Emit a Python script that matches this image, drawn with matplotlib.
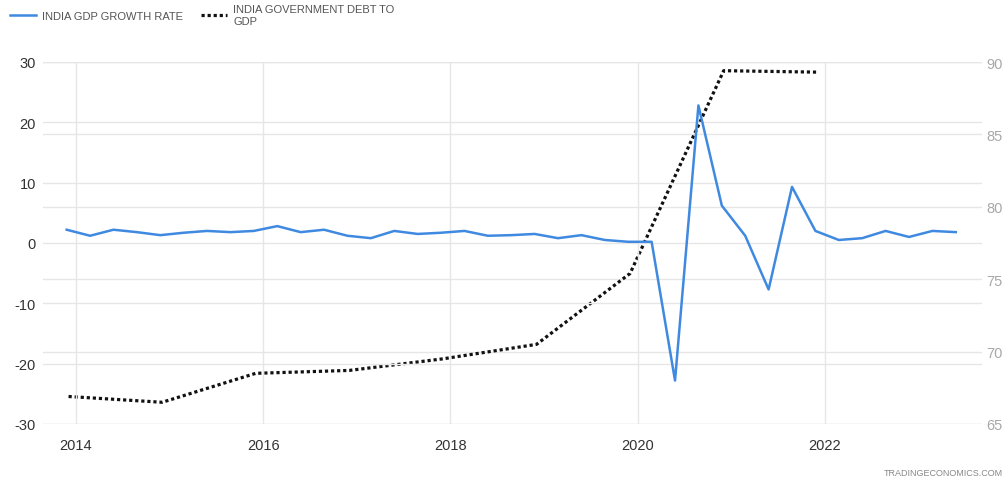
import numpy as np
import pandas as pd
import matplotlib
matplotlib.use('Agg')
import matplotlib.pyplot as plt
from matplotlib.lines import Line2D

# Du lieu doc tu hinh
gdp_quarters = pd.period_range('2013Q4', '2023Q2', freq='Q')
gdp_growth = [2.2, 1.2, 2.2, 1.8, 1.3, 1.7, 2.0, 1.8, 2.0, 2.8, 1.8, 2.2, 1.2,
              0.8, 2.0, 1.5, 1.7, 2.0, 1.2, 1.3, 1.5, 0.8, 1.3, 0.5, 0.2, 0.2, -22.8,
              22.8, 6.2, 1.2, -7.7, 9.3, 2.0, 0.5, 0.8, 2.0, 1.0, 2.0, 1.8]

debt_years = [2013, 2014, 2015, 2016, 2017, 2018, 2019, 2020, 2021]
debt_to_gdp = [66.9, 66.5, 68.5, 68.7, 69.5, 70.5, 75.4, 89.4, 89.3]

left_ticks = [-30, -20, -10, 0, 10, 20, 30]
right_ticks = [65, 70, 75, 80, 85, 90]
year_ticks = [2014, 2016, 2018, 2020, 2022]

# vi tri tren truc thoi gian (nam thap phan)
gdp_x = np.array([p.year + (p.quarter - 1) * 0.25 for p in gdp_quarters]) + 0.15
debt_x = np.array(debt_years) + 0.92

plt.rcParams['font.family'] = ['Liberation Sans', 'DejaVu Sans']
plt.rcParams['axes.unicode_minus'] = False

blue = '#3f8ae0'
grid_c = '#e6e6e6'

fig = plt.figure(figsize=(10.08, 4.85), dpi=100)
ax = fig.add_axes([43 / 1008, 1 - 425 / 485, 939 / 1008, 362 / 485])
ax2 = ax.twinx()

ax.set_xlim(2013.647, 2023.68)
ax.set_ylim(-30, 30)
ax2.set_ylim(65, 90)

ax.set_yticks(left_ticks)
ax2.set_yticks(right_ticks)
ax.set_xticks(year_ticks)
ax.set_xticklabels([str(y) for y in year_ticks])

ax.grid(True, color=grid_c, linewidth=1)
ax2.grid(True, axis='y', color=grid_c, linewidth=1)
ax.set_axisbelow(True)
ax2.set_axisbelow(True)

for a in (ax, ax2):
    for s in a.spines.values():
        s.set_visible(False)

ax.tick_params(axis='both', length=0, labelsize=10.5, colors='#333333')
ax.tick_params(axis='x', pad=10)
ax.tick_params(axis='y', pad=5)
ax2.tick_params(axis='y', length=0, labelsize=10.5, colors='#a8a8a8', pad=3)

ax2.plot(debt_x, debt_to_gdp, color='#111111', linestyle=(0, (1, 0.9)), linewidth=2.3)
ax.plot(gdp_x, gdp_growth, color=blue, linewidth=1.8, zorder=5)
ax.set_zorder(ax2.get_zorder() + 1)
ax.patch.set_visible(False)

handles = [Line2D([], [], color=blue, linewidth=1.8),
           Line2D([], [], color='#111111', linestyle=(0, (1, 0.9)), linewidth=2.3)]
labels = ['INDIA GDP GROWTH RATE', 'INDIA GOVERNMENT DEBT TO\nGDP']
leg = fig.legend(handles, labels, loc='upper left', bbox_to_anchor=(0.0, 1.01),
                 ncol=2, frameon=False, fontsize=8, handlelength=2.3,
                 handletextpad=0.6, columnspacing=1.6, labelspacing=0.1)
for t in leg.get_texts():
    t.set_color('#555555')
    t.set_linespacing(1.25)

fig.text(0.995, 0.015, 'TRADINGECONOMICS.COM', ha='right', va='bottom',
         fontsize=6.5, color='#888888')

fig.savefig('out.png', dpi=100)
